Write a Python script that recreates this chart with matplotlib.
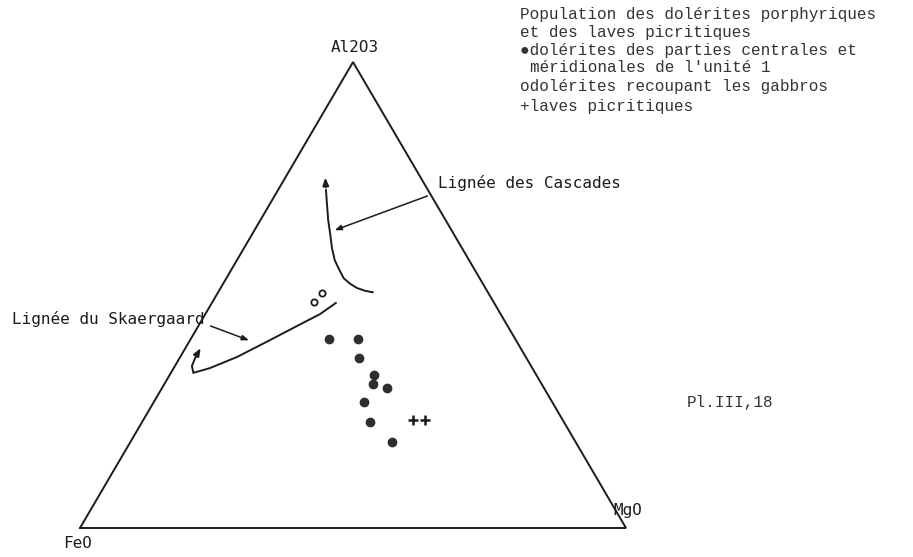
import numpy as np
import matplotlib
matplotlib.use("Agg")
from matplotlib import pyplot as plt

#-------------------------------------------------------------------
# data : ternary compositions in % (FeO, MgO, Al2O3)

# dolerites des parties centrales et meridionales de l'unite 1 (filled dots)
dot_FeO = [34.1, 28.8, 30.6, 29.8, 30.9, 28.8, 34.5, 35.6, 33.6]
dot_MgO = [25.3, 30.6, 32.9, 37.4, 38.2, 41.2, 38.5, 41.7, 47.9]
dot_Al = [40.6, 40.6, 36.5, 32.8, 30.9, 30.0, 27.0, 22.7, 18.5]

# dolerites recoupant les gabbros (open circles)
ring_FeO = [32.9, 30.5]
ring_MgO = [18.6, 19.1]
ring_Al = [48.5, 50.4]

# laves picritiques (+)
plus_FeO = [27.4, 25.2]
plus_MgO = [49.4, 51.6]
plus_Al = [23.2, 23.2]

# Lignee des Cascades (trend, from bottom end to arrow)
casc_FeO = [21.1, 22.3, 23.5, 24.3, 24.9, 24.8, 24.6, 23.8, 22.7, 21.5, 20.1, 18.7, 17.2]
casc_MgO = [28.3, 26.8, 25.0, 23.3, 21.5, 19.8, 17.9, 16.1, 14.4, 12.4, 10.6, 8.8, 7.0]
casc_Al = [50.6, 50.9, 51.5, 52.4, 53.6, 55.4, 57.5, 60.1, 62.9, 66.1, 69.3, 72.5, 75.8]

# Lignee du Skaergaard (trend, from upper end to arrow)
skae_FeO = [29.0, 33.1, 37.2, 45.1, 52.9, 59.1, 62.6, 62.1, 60.3, 58.1]
skae_MgO = [22.7, 21.0, 18.8, 14.6, 10.4, 6.6, 4.1, 3.1, 2.8, 2.8]
skae_Al = [48.3, 45.9, 44.0, 40.3, 36.7, 34.3, 33.3, 34.8, 36.9, 39.1]

apex_names = ['FeO', 'MgO', 'Al2O3']

legend_lines = ["Population des dolérites porphyriques",
                "et des laves picritiques",
                "●dolérites des parties centrales et",
                "méridionales de l'unité 1",
                "odolérites recoupant les gabbros",
                "+laves picritiques"]


def tern(fe, mg, al):
    fe, mg, al = np.asarray(fe, float), np.asarray(mg, float), np.asarray(al, float)
    s = fe + mg + al
    return (mg + al / 2) / s, al * np.sqrt(3) / 2 / s


#--------------------------------------------------------------------
# figure
ink = '#1c1c1c'
W, H = 913, 557
fig = plt.figure(figsize=(9.13, 5.57), dpi=100)
ax = fig.add_axes([0, 0, 1, 1])
ax.set_xlim(-80 / 546, 833 / 546)
ax.set_ylim(-29 / 538, 528 / 538)
ax.axis('off')

# triangle
tx, ty = tern([100, 0, 0, 100], [0, 100, 0, 0], [0, 0, 100, 0])
ax.plot(tx, ty, color=ink, lw=1.4, solid_joinstyle='miter')

# trends
head = dict(arrowstyle='-|>,head_length=0.45,head_width=0.18', color=ink, lw=1.4)
cx, cy = tern(casc_FeO, casc_MgO, casc_Al)
ax.plot(cx[:-1], cy[:-1], color=ink, lw=1.4)
ax.annotate('', xy=(cx[-1], cy[-1]), xytext=(cx[-2], cy[-2]), arrowprops=head)

sx, sy = tern(skae_FeO, skae_MgO, skae_Al)
ax.plot(sx[:-1], sy[:-1], color=ink, lw=1.4)
ax.annotate('', xy=(sx[-1], sy[-1]), xytext=(sx[-2], sy[-2]), arrowprops=head)

# samples
x, y = tern(dot_FeO, dot_MgO, dot_Al)
ax.plot(x, y, 'o', ms=6, color='#2e2e2e', mec='#2e2e2e')
x, y = tern(ring_FeO, ring_MgO, ring_Al)
ax.plot(x, y, 'o', ms=4.5, mfc='white', mec=ink, mew=1.3)
x, y = tern(plus_FeO, plus_MgO, plus_Al)
ax.plot(x, y, '+', ms=7, color=ink, mew=1.8)

#--------------------------------------------------------------------
# labels
lab = dict(family='DejaVu Sans Mono', color=ink, fontsize=11.5)
fig.text(355 / W, 1 - 48 / H, apex_names[2], ha='center', va='center', **lab)
fig.text(78 / W, 1 - 544 / H, apex_names[0], ha='center', va='center', **lab)
fig.text(628 / W, 1 - 511 / H, apex_names[1], ha='center', va='center', **lab)

fig.text(12 / W, 1 - 319 / H, "Lignée du Skaergaard", ha='left', va='center', **lab)
fig.text(438 / W, 1 - 183 / H, "Lignée des Cascades", ha='left', va='center', **lab)

# pointers
ptr = dict(arrowstyle='-|>,head_length=0.4,head_width=0.15', color=ink, lw=1.1)
tip = tern(48.6, 11.4, 40.1)
ax.annotate('', xy=tip, xytext=(208, H - 325), textcoords='figure pixels', arrowprops=ptr)
tip = tern(22.0, 14.3, 63.7)
ax.annotate('', xy=tip, xytext=(430, H - 195), textcoords='figure pixels', arrowprops=ptr)

# typed legend
typed = dict(family=['Liberation Mono', 'DejaVu Sans Mono'], color='#333333', fontsize=11.5)
ly = [15, 32, 50, 67, 87, 106]
lx = [520, 520, 520, 530, 520, 520]
for t, xx, yy in zip(legend_lines, lx, ly):
    fig.text(xx / W, 1 - yy / H, t, ha='left', va='center', **typed)

fig.text(687 / W, 1 - 402 / H, "Pl.III,18", ha='left', va='center', **typed)

plt.savefig('out.png', dpi=100)
